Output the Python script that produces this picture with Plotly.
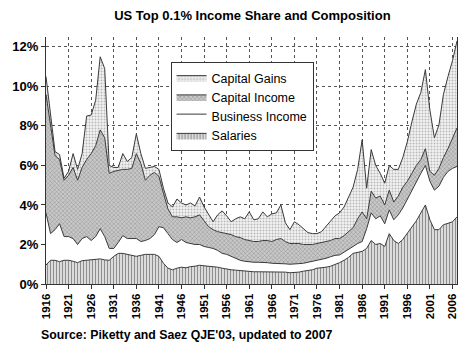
import plotly.graph_objects as go

years = list(range(1916, 2008))

salaries = [0.96, 1.20, 1.20, 1.13, 1.20, 1.20, 1.15, 1.08, 1.18, 1.20,
            1.20, 1.22, 1.27, 1.22, 1.20, 1.40, 1.55, 1.55, 1.50, 1.45,
            1.40, 1.45, 1.50, 1.50, 1.50, 1.40, 1.05, 0.80, 0.72, 0.80,
            0.85, 0.82, 0.88, 0.90, 0.95, 0.92, 0.90, 0.88, 0.85, 0.80,
            0.75, 0.72, 0.70, 0.68, 0.65, 0.62, 0.62, 0.62, 0.62, 0.62,
            0.62, 0.62, 0.62, 0.60, 0.57, 0.57, 0.60, 0.65, 0.68, 0.72,
            0.80, 0.82, 0.85, 0.90, 0.98, 1.08, 1.20, 1.35, 1.55, 1.60,
            1.65, 1.80, 2.20, 2.00, 2.05, 1.90, 2.55, 2.20, 2.05, 2.25,
            2.55, 2.85, 3.20, 3.60, 4.00, 3.25, 2.75, 2.75, 3.00, 3.07,
            3.15, 3.40]

business = [2.64, 1.35, 1.55, 1.92, 1.20, 1.20, 1.15, 0.92, 1.12, 1.20,
            1.00, 1.18, 1.53, 1.18, 0.60, 0.40, 0.55, 0.90, 0.80, 0.85,
            0.90, 0.70, 0.70, 0.80, 1.00, 1.50, 1.80, 1.75, 1.53, 1.30,
            1.40, 1.28, 1.17, 1.10, 1.05, 0.98, 0.95, 0.92, 0.85, 0.75,
            0.75, 0.68, 0.60, 0.52, 0.50, 0.50, 0.48, 0.48, 0.48, 0.46,
            0.43, 0.43, 0.43, 0.42, 0.43, 0.43, 0.43, 0.40, 0.42, 0.40,
            0.40, 0.43, 0.45, 0.48, 0.47, 0.39, 0.40, 0.40, 0.35, 0.45,
            0.50, 1.00, 1.40, 1.30, 1.40, 1.15, 1.20, 1.05, 1.45, 1.60,
            1.75, 1.85, 1.95, 2.00, 2.00, 1.95, 2.00, 2.20, 2.40, 2.63,
            2.70, 2.55]

capital_income = [6.00, 5.55, 3.75, 3.25, 2.85, 3.10, 3.60, 3.25, 3.60, 3.90,
                  4.40, 4.60, 5.00, 5.00, 3.80, 3.90, 3.65, 3.35, 3.50, 3.55,
                  4.30, 3.95, 3.05, 3.20, 3.15, 2.55, 1.75, 1.25, 1.15, 1.30,
                  1.10, 1.30, 1.30, 1.40, 1.50, 1.30, 1.05, 0.95, 0.95, 1.05,
                  1.05, 1.10, 1.10, 1.15, 1.10, 1.08, 1.05, 1.05, 1.10, 1.12,
                  1.10, 1.20, 1.25, 1.13, 1.05, 1.05, 1.02, 0.95, 0.90, 0.88,
                  0.85, 0.85, 0.85, 0.82, 0.85, 0.83, 0.85, 0.90, 0.95, 1.25,
                  1.50, 0.50, 1.10, 1.05, 1.00, 0.95, 1.00, 0.90, 0.95, 1.05,
                  0.90, 0.90, 0.85, 0.70, 0.85, 0.50, 0.75, 0.90, 1.00, 1.15,
                  1.55, 1.95]

capital_gains = [0.90, 0.50, 0.20, 0.25, 0.10, 0.20, 0.70, 0.55, 0.70, 2.20,
                 1.95, 2.30, 3.70, 3.50, 0.40, 0.20, 0.15, 0.80, 0.40, 0.55,
                 1.00, 0.50, 0.60, 0.40, 0.30, 0.35, 0.25, 0.30, 0.50, 0.90,
                 0.75, 0.60, 0.75, 0.55, 0.90, 0.70, 0.65, 0.40, 0.85, 1.10,
                 0.90, 0.65, 0.90, 1.05, 1.05, 1.45, 1.10, 1.15, 1.45, 1.20,
                 1.40, 1.35, 1.70, 0.95, 0.70, 1.10, 0.95, 0.80, 0.60, 0.55,
                 0.50, 0.55, 0.75, 1.00, 1.15, 1.30, 1.45, 1.75, 2.05, 2.50,
                 3.65, 1.55, 2.10, 1.65, 1.15, 1.10, 1.25, 1.65, 1.35, 1.50,
                 2.00, 2.60, 3.10, 3.40, 4.00, 3.10, 1.90, 2.20, 3.20, 3.65,
                 3.90, 4.40]

x_ticks = list(range(1916, 2007, 5))
y_ticks = [0, 2, 4, 6, 8, 10, 12]
y_labels = ["0%", "2%", "4%", "6%", "8%", "10%", "12%"]

FONT = "Arial, Liberation Sans, sans-serif"
LINE = dict(color="#3a3a3a", width=1)

series = [
    ("Salaries", salaries, dict(shape="|", fgcolor="#1e1e1e", bgcolor="#ffffff", size=3, solidity=0.55)),
    ("Business Income", business, None),
    ("Capital Income", capital_income, dict(shape="x", fgcolor="#555555", bgcolor="#c8c8c8", size=3, solidity=0.3)),
    ("Capital Gains", capital_gains, dict(shape=".", fgcolor="#808080", bgcolor="#f2f2f2", size=3, solidity=0.35)),
]

fig = go.Figure()
for name, vals, pat in series:
    kw = {}
    if pat:
        kw["fillpattern"] = pat
        kw["fillcolor"] = pat["bgcolor"]
    else:
        kw["fillcolor"] = "#ffffff"
    fig.add_trace(go.Scatter(
        x=years, y=vals, name=name, mode="lines", stackgroup="one",
        line=LINE, hoverinfo="skip", **kw))

fig.update_layout(
    width=470, height=361,
    margin=dict(l=39, r=12, t=37, b=77),
    paper_bgcolor="white", plot_bgcolor="white",
    font=dict(family=FONT, color="black"),
    title=dict(text="<b>US Top 0.1% Income Share and Composition</b>",
               x=0.537, xanchor="center", y=0.958, yanchor="middle",
               font=dict(size=13, family=FONT, color="black")),
    legend=dict(x=(166 - 39) / 419, y=(284 - 62) / 247, xanchor="left", yanchor="top",
                traceorder="reversed", bgcolor="white",
                bordercolor="#333333", borderwidth=1,
                font=dict(size=12.5, family=FONT, color="black"),
                itemwidth=30, tracegroupgap=0),
    showlegend=True,
    hovermode=False,
)

fig.update_xaxes(range=[1916, 2007], tickvals=x_ticks, tickangle=-90,
                 ticks="outside", ticklen=4, tickcolor="#333",
                 showline=True, linecolor="#333", linewidth=1,
                 showgrid=True, gridcolor="#555", griddash="3px,3px", gridwidth=1,
                 tickfont=dict(size=11.5, family=FONT, color="black", weight="bold"),
                 zeroline=False)
fig.update_yaxes(range=[0, 12.5], tickvals=y_ticks, ticktext=y_labels,
                 ticks="outside", ticklen=4, tickcolor="#333",
                 showline=True, linecolor="#333", linewidth=1, mirror=True,
                 showgrid=True, gridcolor="#555", griddash="3px,3px", gridwidth=1,
                 tickfont=dict(size=13, family=FONT, color="black", weight="bold"),
                 zeroline=False)

fig.add_annotation(text="<b>Source: Piketty and Saez QJE'03, updated to 2007</b>",
                   xref="paper", yref="paper", x=(32 - 39) / 419, y=(284 - 335) / 247,
                   xanchor="left", yanchor="middle", showarrow=False,
                   font=dict(size=12.3, family=FONT, color="black"))

fig.write_html("out.html", config={"displayModeBar": False},
               post_script="document.body.style.margin='0';")
